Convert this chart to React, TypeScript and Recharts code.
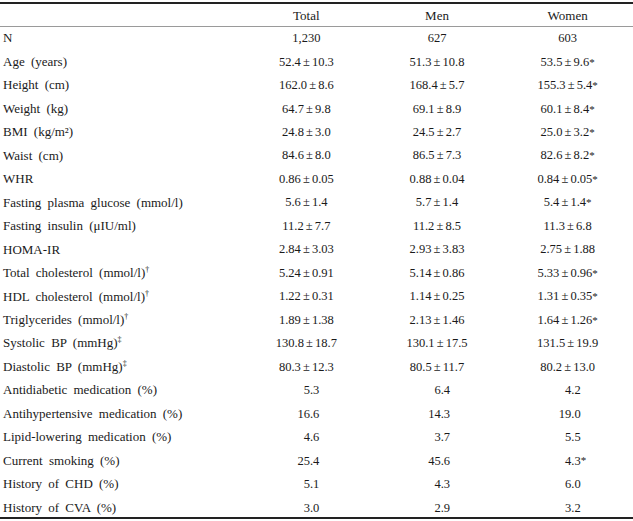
import React from 'react';
import { ScatterChart, Scatter, XAxis, YAxis, Customized } from 'recharts';

const columns = ['Total', 'Men', 'Women'];

const rowLabels = [
  'N',
  'Age (years)',
  'Height (cm)',
  'Weight (kg)',
  'BMI (kg/m²)',
  'Waist (cm)',
  'WHR',
  'Fasting plasma glucose (mmol/l)',
  'Fasting insulin (μIU/ml)',
  'HOMA-IR',
  'Total cholesterol (mmol/l)†',
  'HDL cholesterol (mmol/l)†',
  'Triglycerides (mmol/l)†',
  'Systolic BP (mmHg)‡',
  'Diastolic BP (mmHg)‡',
  'Antidiabetic medication (%)',
  'Antihypertensive medication (%)',
  'Lipid-lowering medication (%)',
  'Current smoking (%)',
  'History of CHD (%)',
  'History of CVA (%)',
];

const totalValues = [
  '1,230', '52.4 ± 10.3', '162.0 ± 8.6', '64.7 ± 9.8', '24.8 ± 3.0', '84.6 ± 8.0',
  '0.86 ± 0.05', '5.6 ± 1.4', '11.2 ± 7.7', '2.84 ± 3.03', '5.24 ± 0.91', '1.22 ± 0.31',
  '1.89 ± 1.38', '130.8 ± 18.7', '80.3 ± 12.3', '5.3', '16.6', '4.6', '25.4', '5.1', '3.0',
];

const menValues = [
  '627', '51.3 ± 10.8', '168.4 ± 5.7', '69.1 ± 8.9', '24.5 ± 2.7', '86.5 ± 7.3',
  '0.88 ± 0.04', '5.7 ± 1.4', '11.2 ± 8.5', '2.93 ± 3.83', '5.14 ± 0.86', '1.14 ± 0.25',
  '2.13 ± 1.46', '130.1 ± 17.5', '80.5 ± 11.7', '6.4', '14.3', '3.7', '45.6', '4.3', '2.9',
];

const womenValues = [
  '603', '53.5 ± 9.6*', '155.3 ± 5.4*', '60.1 ± 8.4*', '25.0 ± 3.2*', '82.6 ± 8.2*',
  '0.84 ± 0.05*', '5.4 ± 1.4*', '11.3 ± 6.8', '2.75 ± 1.88', '5.33 ± 0.96*', '1.31 ± 0.35*',
  '1.64 ± 1.26*', '131.5 ± 19.9', '80.2 ± 13.0', '4.2', '19.0', '5.5', '4.3*', '6.0', '3.2',
];

const valuesByColumn = [totalValues, menValues, womenValues];

// one point per table cell: x = column, y = row
const cells = rowLabels.flatMap((row, r) =>
  columns.map((column, c) => ({ row, column, value: valuesByColumn[c][r] }))
);

const FONT = '"Liberation Serif", "DejaVu Serif", serif';
const INK = '#1a1a1a';

const RowTick = (props: any) => {
  const { y, payload } = props;
  const label: string = payload.value;
  const mark = /[†‡]$/.test(label) ? label.slice(-1) : '';
  const main = mark ? label.slice(0, -1) : label;
  return (
    <text x={3} y={y} dy="0.35em" fontFamily={FONT} fontSize={13} fill={INK} style={{ wordSpacing: 3 }}>
      {main}
      {mark && (
        <tspan fontSize={8} dy={-5}>
          {mark}
        </tspan>
      )}
    </text>
  );
};

const HeaderTick = (props: any) => {
  const { x, payload } = props;
  return (
    <text x={x} y={15} dy="0.35em" textAnchor="middle" fontFamily={FONT} fontSize={13} fill={INK}>
      {payload.value}
    </text>
  );
};

const CellText = (props: any) => {
  const { cx, cy, payload } = props;
  const raw: string = payload.value;
  const star = raw.endsWith('*');
  const num = star ? raw.slice(0, -1) : raw;
  const isPercent = payload.row.includes('(%)');
  if (isPercent) {
    // percentages sit right-aligned a little past the column centre
    return (
      <g>
        <text x={cx + 13} y={cy} dy="0.35em" textAnchor="end" fontFamily={FONT} fontSize={12.5} fill={INK}>
          {num}
        </text>
        {star && (
          <text x={cx + 13} y={cy} dy="0.35em" fontFamily={FONT} fontSize={11} fill={INK}>
            *
          </text>
        )}
      </g>
    );
  }
  return (
    <text
      x={cx}
      y={cy}
      dy="0.35em"
      textAnchor="middle"
      fontFamily={FONT}
      fontSize={12.5}
      fill={INK}
      style={{ wordSpacing: -1 }}
    >
      {num}
      {star && <tspan fontSize={11}>*</tspan>}
    </text>
  );
};

const Rules = () => (
  <g>
    <line x1={0} x2={633} y1={3} y2={3} stroke="#222" strokeWidth={2} />
    <line x1={0} x2={633} y1={26.5} y2={26.5} stroke="#9a9a9a" strokeWidth={1} />
    <line x1={0} x2={633} y1={518} y2={518} stroke="#222" strokeWidth={2} />
  </g>
);

export default function App() {
  return (
    <div style={{ position: 'absolute', left: 0, top: 0, width: 633, height: 521, background: '#fff' }}>
      <ScatterChart width={633} height={521} margin={{ top: 0, right: 0, bottom: 2, left: 0 }}>
        <XAxis
          type="category"
          dataKey="column"
          orientation="top"
          height={26}
          allowDuplicatedCategory={false}
          axisLine={false}
          tickLine={false}
          tick={<HeaderTick />}
          interval={0}
        />
        <YAxis
          type="category"
          dataKey="row"
          width={241}
          reversed
          allowDuplicatedCategory={false}
          axisLine={false}
          tickLine={false}
          tick={<RowTick />}
          interval={0}
        />
        <Scatter data={cells} isAnimationActive={false} shape={<CellText />} />
        <Customized component={<Rules />} />
      </ScatterChart>
    </div>
  );
}
